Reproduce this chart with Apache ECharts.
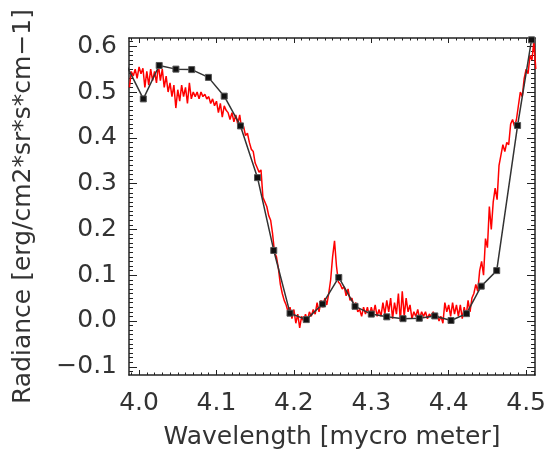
<!DOCTYPE html>
<html>
<head>
<meta charset="utf-8">
<script src="https://cdn.jsdelivr.net/npm/echarts@6/dist/echarts.min.js"></script>
<style>
  html, body { margin: 0; padding: 0; background: #fff; }
  #chart { width: 549px; height: 455px; }
</style>
</head>
<body>
<div id="chart"></div>
<script>
// tick labels
const xTicks = [4.0, 4.1, 4.2, 4.3, 4.4, 4.5];
const yTicks = [-0.1, 0.0, 0.1, 0.2, 0.3, 0.4, 0.5, 0.6];

// black line: wavelength + radiance
const blackX = [3.9845, 4.0055, 4.026, 4.0476, 4.068, 4.0896, 4.110, 4.131, 4.153,
  4.174, 4.195, 4.216, 4.237, 4.258, 4.279, 4.300, 4.320, 4.341, 4.362,
  4.382, 4.403, 4.423, 4.442, 4.462, 4.489, 4.507];
const blackY = [0.556, 0.485, 0.558, 0.550, 0.549, 0.532, 0.491, 0.426, 0.313,
  0.154, 0.017, 0.003, 0.037, 0.095, 0.032, 0.015, 0.009, 0.005, 0.006,
  0.011, 0.001, 0.016, 0.076, 0.110, 0.427, 0.614];

// red spectrum, sampled every 0.0025 micron from 3.9875
const redStart = 3.9875;
const redStep = 0.0025;
const redValues = [
  0.51, 0.545, 0.535, 0.55, 0.53, 0.555, 0.54, 0.552, 0.51, 0.545,
  0.515, 0.55, 0.525, 0.545, 0.52, 0.56, 0.525, 0.55, 0.51, 0.535,
  0.50, 0.52, 0.49, 0.515, 0.465, 0.505, 0.48, 0.515, 0.49, 0.51,
  0.475, 0.52, 0.485, 0.50, 0.49, 0.50, 0.485, 0.50, 0.49, 0.495,
  0.485, 0.49, 0.475, 0.485, 0.47, 0.48, 0.455, 0.475, 0.445, 0.47,
  0.46, 0.455, 0.44, 0.455, 0.435, 0.45, 0.43, 0.45, 0.42, 0.425,
  0.405, 0.41, 0.39, 0.375, 0.37, 0.345, 0.335, 0.325, 0.33, 0.27,
  0.27, 0.25, 0.23, 0.22, 0.19, 0.15, 0.14, 0.115, 0.08, 0.06,
  0.045, 0.035, 0.02, 0.03, 0.005, 0.025, -0.005, 0.015, -0.015, 0.01,
  0.0, 0.015, 0.0, 0.02, 0.01, 0.025, 0.015, 0.04, 0.02, 0.045,
  0.03, 0.05, 0.035, 0.06, 0.09, 0.14, 0.175, 0.12, 0.085, 0.08,
  0.07, 0.075, 0.055, 0.07, 0.045, 0.05, 0.03, 0.04, 0.02, 0.025,
  0.01, 0.03, 0.015, 0.03, 0.01, 0.03, 0.015, 0.035, 0.01, 0.025,
  0.01, 0.04, 0.015, 0.045, 0.02, 0.05, 0.005, 0.04, 0.015, 0.06,
  0.0, 0.065, 0.01, 0.05, 0.02, 0.035, 0.005, 0.02, 0.01, 0.025,
  0.005, 0.02, 0.01, 0.02, 0.005, 0.015, 0.01, 0.02, 0.005, 0.015,
  0.0, 0.01, -0.005, 0.04, 0.02, 0.035, 0.01, 0.04, 0.015, 0.035,
  0.01, 0.035, 0.005, 0.03, 0.01, 0.045, 0.02, 0.05, 0.06, 0.08,
  0.065, 0.11, 0.13, 0.10, 0.18, 0.16, 0.25, 0.2, 0.26, 0.29,
  0.265, 0.34, 0.34, 0.385, 0.37, 0.39, 0.385, 0.43, 0.44, 0.425,
  0.44, 0.47, 0.50, 0.49, 0.53, 0.55, 0.54, 0.58, 0.57, 0.61,
  0.55
];

const X_MIN = 3.987, X_MAX = 4.5115;
const Y_MIN = -0.118, Y_MAX = 0.618;
const FONT = 'DejaVu Sans';
const INK = '#222';

// minor tick positions every 0.01
const xMinor = [];
for (let v = 399; v <= 451; v++) xMinor.push(v / 100);
const yMinor = [];
for (let v = -11; v <= 61; v++) yMinor.push(v / 100);

const redData = redValues.map((v, i) => [redStart + i * redStep, v]);
const blackData = blackX.map((x, i) => [x, blackY[i]]);

function fmt(v) {
  const s = v.toFixed(1);
  return s.charAt(0) === '-' ? '\u2212' + s.slice(1) : s;
}

function tickAxis(pos, min, max, major, minor, isMinor, len, extra) {
  return Object.assign({
    type: 'value',
    position: pos,
    min: min,
    max: max,
    axisLine: { show: !isMinor, onZero: false, lineStyle: { color: INK, width: 1.5 } },
    axisTick: {
      show: true, inside: true, length: len,
      customValues: isMinor ? minor : major,
      lineStyle: { color: INK, width: 1 }
    },
    axisLabel: { show: false },
    splitLine: { show: false }
  }, extra || {});
}

const textStyle = { fontFamily: FONT, fontSize: 25, color: '#333' };

const chart = echarts.init(document.getElementById('chart'));

const option = {
  backgroundColor: '#fff',
  animation: false,
  grid: { left: 129, right: 12, top: 38, bottom: 77 },
  xAxis: [
    tickAxis('bottom', X_MIN, X_MAX, xTicks, xMinor, false, 5, {
      axisLabel: Object.assign({
        show: true, customValues: xTicks, margin: 16, formatter: fmt
      }, textStyle),
      name: 'Wavelength [mycro meter]',
      nameLocation: 'middle',
      nameGap: 50,
      nameTextStyle: textStyle
    }),
    tickAxis('bottom', X_MIN, X_MAX, xTicks, xMinor, true, 2.5),
    tickAxis('top', X_MIN, X_MAX, xTicks, xMinor, false, 5),
    tickAxis('top', X_MIN, X_MAX, xTicks, xMinor, true, 2.5)
  ],
  yAxis: [
    tickAxis('left', Y_MIN, Y_MAX, yTicks, yMinor, false, 8, {
      axisLabel: Object.assign({
        show: true, customValues: yTicks, margin: 12, formatter: fmt
      }, textStyle),
      name: 'Radiance [erg/cm2*sr*s*cm\u22121]',
      nameLocation: 'middle',
      nameGap: 93,
      nameTextStyle: textStyle
    }),
    tickAxis('left', Y_MIN, Y_MAX, yTicks, yMinor, true, 4),
    tickAxis('right', Y_MIN, Y_MAX, yTicks, yMinor, false, 8),
    tickAxis('right', Y_MIN, Y_MAX, yTicks, yMinor, true, 4)
  ],
  series: [
    {
      name: 'spectrum',
      type: 'line',
      data: redData,
      showSymbol: false,
      clip: true,
      lineStyle: { color: '#ff0000', width: 1.5 },
      z: 2
    },
    {
      name: 'model',
      type: 'line',
      data: blackData,
      symbol: 'rect',
      symbolSize: 6,
      clip: true,
      itemStyle: { color: '#111', borderColor: '#555', borderWidth: 1 },
      lineStyle: { color: '#333', width: 1.5 },
      z: 3
    }
  ]
};

chart.setOption(option);
</script>
</body>
</html>
